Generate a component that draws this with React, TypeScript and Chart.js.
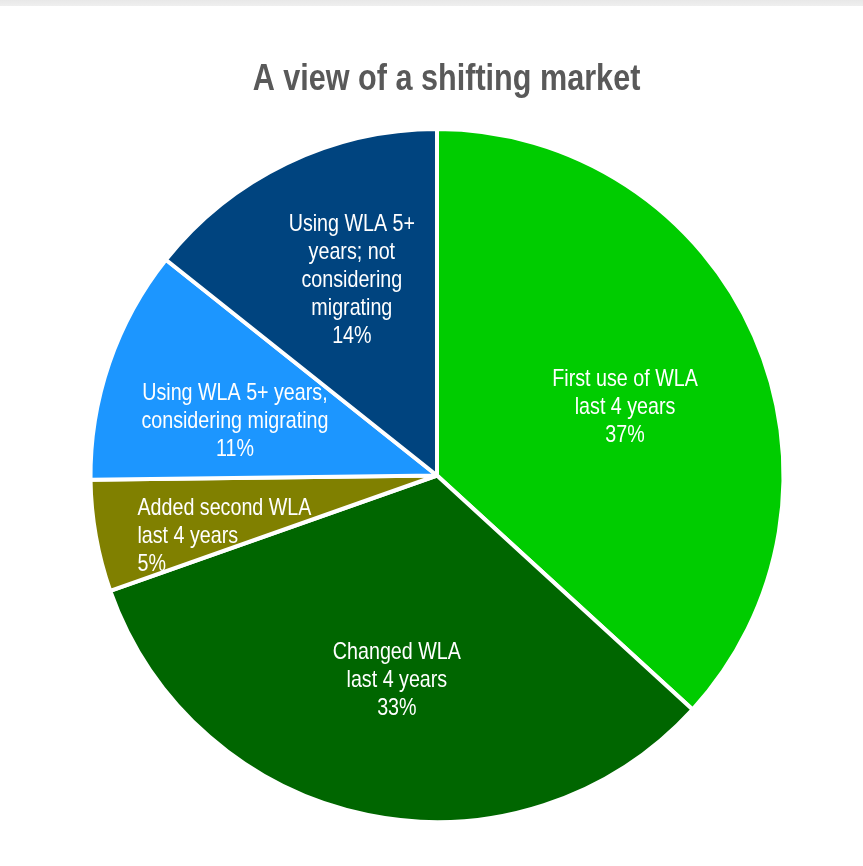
import React, { useEffect, useRef } from "react";
import { Chart, registerables } from "chart.js";

Chart.register(...registerables);

const titleText = "A view of a shifting market";
const categories = [
  "First use of WLA last 4 years",
  "Changed WLA last 4 years",
  "Added second WLA last 4 years",
  "Using WLA 5+ years, considering migrating",
  "Using WLA 5+ years; not considering migrating",
];
const values = [36.8, 32.8, 5.2, 10.9, 14.3];
const percentLabels = ["37%", "33%", "5%", "11%", "14%"];
const labelLines = [
  ["First use of WLA", "last 4 years"],
  ["Changed WLA", "last 4 years"],
  ["Added second WLA", "last 4 years"],
  ["Using WLA 5+ years,", "considering migrating"],
  ["Using WLA 5+", "years; not", "considering", "migrating"],
];
const colors = ["#00CC00", "#006600", "#808000", "#1C96FF", "#00447F"];

// label placement: angle offset from slice middle (deg), radius fraction, alignment
const labelPlacement = [
  { da: 3.2, rf: 0.583, align: "center" },
  { da: -0.3, rf: 0.599, align: "center" },
  { da: -5.3, rf: 0.64, align: "left" },
  { da: -3.3, rf: 0.609, align: "center" },
  { da: 2.4, rf: 0.624, align: "center" },
];

const LABEL_SIZE = 24;
const LABEL_FONT = `${LABEL_SIZE}px "Liberation Sans", Arial, sans-serif`;
const LABEL_SCALE_X = 0.82;
const TITLE_SIZE = 36;
const TITLE_FONT = `bold ${TITLE_SIZE}px "Liberation Sans", Arial, sans-serif`;
const TITLE_SCALE_X = 0.85;

const sliceLabelPlugin = {
  id: "sliceLabels",
  afterDatasetsDraw(chart: any) {
    const ctx = chart.ctx;
    const meta = chart.getDatasetMeta(0);
    ctx.save();
    ctx.font = LABEL_FONT;
    ctx.fillStyle = "#ffffff";
    ctx.textBaseline = "alphabetic";
    const capHalf = (LABEL_SIZE * 0.716) / 2;
    meta.data.forEach((arc: any, i: number) => {
      const p = labelPlacement[i];
      const mid = (arc.startAngle + arc.endAngle) / 2 + (p.da * Math.PI) / 180;
      const r = (arc.outerRadius - 2) * p.rf;
      const cx = arc.x + Math.cos(mid) * r;
      const cy = arc.y + Math.sin(mid) * r;
      const lines = [...labelLines[i], percentLabels[i]];
      const lh = 28;
      const maxW = Math.max(...lines.map((l) => ctx.measureText(l).width)) * LABEL_SCALE_X;
      lines.forEach((line, k) => {
        const y = cy + (k - (lines.length - 1) / 2) * lh + capHalf;
        ctx.save();
        if (p.align === "left") {
          ctx.textAlign = "left";
          ctx.translate(cx - maxW / 2, y);
        } else {
          ctx.textAlign = "center";
          ctx.translate(cx, y);
        }
        ctx.scale(LABEL_SCALE_X, 1);
        ctx.fillText(line, 0, 0);
        ctx.restore();
      });
    });
    ctx.restore();
  },
};

const titlePlugin = {
  id: "customTitle",
  afterDraw(chart: any) {
    const ctx = chart.ctx;
    ctx.save();
    ctx.font = TITLE_FONT;
    ctx.fillStyle = "#595959";
    ctx.textAlign = "center";
    ctx.textBaseline = "alphabetic";
    ctx.translate(chart.width / 2 + 15, 90);
    ctx.scale(TITLE_SCALE_X, 1);
    ctx.fillText(titleText, 0, 0);
    ctx.restore();
  },
};

export default function App() {
  const canvasRef = useRef<HTMLCanvasElement | null>(null);

  useEffect(() => {
    if (!canvasRef.current) return;
    const chart = new Chart(canvasRef.current, {
      type: "pie",
      data: {
        labels: categories,
        datasets: [
          {
            data: values,
            backgroundColor: colors,
            borderColor: "#ffffff",
            borderWidth: 4,
          },
        ],
      },
      options: {
        animation: false,
        responsive: false,
        radius: 346.5,
        layout: { padding: { left: 11, right: 0, top: 130, bottom: 45 } },
        plugins: {
          legend: { display: false },
          title: { display: false },
          tooltip: { enabled: false },
        },
      } as any,
      plugins: [sliceLabelPlugin, titlePlugin],
    });
    return () => chart.destroy();
  }, []);

  return (
    <div style={{ position: "absolute", top: 0, left: 0, width: 863, height: 866, background: "#ffffff" }}>
      <div style={{ position: "absolute", top: 0, left: 0, width: 863, height: 6, background: "linear-gradient(#e8e8e8, #efefef)" }} />
      <canvas ref={canvasRef} width={863} height={866} style={{ display: "block" }} />
    </div>
  );
}
